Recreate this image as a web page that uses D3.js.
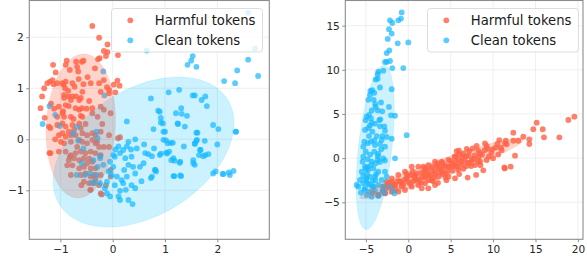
<!DOCTYPE html>
<html>
<head>
<meta charset="utf-8">
<script src="https://cdn.jsdelivr.net/npm/d3@7"></script>
<style>
  body { margin: 0; background: #fff; }
  svg { display: block; font-family: "DejaVu Sans", sans-serif; }
</style>
</head>
<body>
<script>
    // series labels and colours
    const seriesNames = ["Harmful tokens", "Clean tokens"];
    const seriesColors = ["#ff6347", "#1ab8ff"];

    // tick labels
    const leftXTicks = [-1, 0, 1, 2];
    const leftYTicks = [-1, 0, 1, 2];
    const rightXTicks = [-5, 0, 5, 10, 15, 20];
    const rightYTicks = [-5, 0, 5, 10, 15];

    // axis extents
    const leftXDomain = [-1.595, 2.994];
    const leftYDomain = [-1.96, 2.72];
    const rightXDomain = [-7.43, 20.6];
    const rightYDomain = [-9.19, 17.85];

    // left panel, harmful tokens
    const leftHarmful = [
        [-0.39,2.22],[-0.26,1.99],[-0.10,1.86],[-0.17,1.73],[-0.10,1.71],[-0.13,1.63],[0.10,1.65],[-0.28,1.57],
        [-0.25,1.59],[-1.14,1.46],[-0.88,1.54],[-0.90,1.46],[-0.70,1.52],[-0.59,1.52],[-0.56,1.54],[-0.68,1.42],
        [-0.82,1.36],[-0.66,1.33],[-0.34,1.39],[-1.09,1.31],[-1.20,1.13],[-1.15,1.16],[-1.25,1.10],[-1.31,1.00],
        [-1.35,0.84],[-1.38,0.61],[-1.13,1.08],[-1.06,1.10],[-0.96,1.10],[-0.90,1.13],[-0.94,1.07],[-0.77,1.10],
        [-0.91,1.00],[-0.73,1.03],[-0.56,1.08],[-0.58,0.93],[-0.42,1.10],[-0.26,1.10],[-0.17,1.16],[-0.11,1.02],
        [-0.07,0.97],[0.02,1.07],[0.09,1.15],[-0.23,0.93],[-0.07,0.90],[-0.93,0.87],[-0.93,0.81],[-0.84,0.84],
        [-0.77,0.84],[-0.80,0.77],[-0.64,0.77],[-0.61,0.81],[-0.70,0.84],[-0.90,0.67],[-0.84,0.65],[-1.03,0.64],
        [-0.71,0.61],[-0.64,0.58],[-0.59,0.61],[-0.39,0.61],[-0.23,0.64],[-0.17,0.58],[-0.96,0.51],[-1.06,0.44],
        [-0.93,0.44],[-0.80,0.44],[-0.61,0.46],[-0.58,0.44],[-0.39,0.51],[-0.29,0.44],[-0.04,0.51],
        [-1.22,0.25],[-1.19,0.22],[-1.06,0.28],[-0.96,0.31],[-0.90,0.25],[-0.77,0.28],[-0.64,0.31],[-0.61,0.22],
        [-0.74,0.18],[-0.84,0.15],[-0.96,0.12],[-1.03,0.08],[-0.90,0.05],[-0.80,0.08],[-0.71,0.08],[-0.58,0.12],
        [-0.49,0.08],[-0.39,0.12],[-0.33,0.08],[-0.23,0.15],[-0.07,0.08],[-0.99,-0.05],[-0.93,-0.08],[-0.80,-0.05],
        [-0.64,-0.01],[-0.58,-0.05],[-0.49,-0.08],[-0.39,-0.01],[-0.33,-0.08],[-0.26,-0.15],[-0.17,-0.15],[-0.07,-0.15],
        [-1.19,-0.27],[-1.03,-0.24],[-0.90,-0.24],[-0.80,-0.31],[-0.71,-0.27],[-0.61,-0.24],[-0.52,-0.27],[-0.42,-0.24],
        [-0.33,-0.27],[-0.23,-0.31],[-0.84,-0.41],[-0.74,-0.37],[-0.64,-0.41],[-0.55,-0.37],[-0.49,-0.47],[-0.39,-0.44],
        [-0.87,-0.51],[-0.77,-0.51],[-0.64,-0.57],[-0.55,-0.54],[-0.42,-0.57],[-0.33,-0.57],[-0.61,-0.70],[-0.52,-0.67],
        [-0.42,-0.73],[-0.33,-0.77],[-0.23,-0.70],[-0.55,-0.83],[-0.45,-0.86],[-0.36,-0.86],[-0.26,-0.90],[-0.42,-0.99],
        [-0.23,-1.06],[-0.13,-0.90],[-0.04,-0.60],[-0.04,-0.73],[0.14,0.04],[0.10,0.02],[-0.21,-1.08],[-0.43,-0.99],
        [-0.80,-0.70],[-1.21,-0.27],[-0.82,-0.34],[0.13,1.05],[0.05,0.92],[-1.30,0.42],[-1.18,0.70],[-0.48,1.22],
        [-0.85,0.95],[-0.65,1.18],[-0.45,0.75],[-0.52,0.30],[-1.10,0.00],[-0.68,-0.15],[-0.45,-0.38],[-0.30,-0.05],
        [-0.95,0.55],[-1.12,0.60],[-0.75,0.40],[-0.50,0.60],[-0.20,0.30],[-0.35,-0.70],[-0.60,-0.90]
    ];

    // left panel, clean tokens
    const leftClean = [
        [2.59,2.48],[2.72,1.78],[2.59,1.56],[2.78,1.24],[2.38,1.35],[2.34,1.10],[2.13,1.14],[0.65,1.74],
        [1.53,1.63],[1.50,1.54],[1.43,1.46],[1.60,1.42],[-0.18,1.33],[-0.16,0.86],[-1.21,0.65],[-1.10,0.48],
        [-1.34,0.30],[-1.01,0.26],[1.53,0.86],[1.57,0.86],[1.70,0.77],[1.77,0.84],[1.80,0.65],[1.27,0.97],
        [1.07,0.92],[0.73,0.80],[0.27,0.35],[1.31,0.61],[1.32,0.50],[1.21,0.51],[0.90,0.54],[0.96,0.31],
        [0.78,0.20],[1.00,0.15],[0.97,-0.01],[1.11,-0.07],[1.24,0.31],[1.38,0.25],[1.36,-0.14],[1.60,0.13],
        [1.61,-0.01],[1.57,-0.08],[1.67,-0.21],[1.77,-0.31],[1.83,-0.29],[1.92,0.28],[2.02,0.20],[2.00,-0.10],
        [2.36,0.15],[1.92,-0.67],[2.10,-0.68],[2.24,-0.70],[2.31,-0.62],[2.22,-0.65],[1.54,-0.41],[1.54,-0.47],
        [1.29,-0.44],[1.16,-0.37],[1.02,-0.26],[0.90,-0.31],[0.75,-0.33],[0.68,-0.29],[0.62,-0.27],[0.81,-0.60],
        [0.75,-0.73],[1.16,-0.72],[1.29,-0.71],[0.59,-0.47],[0.52,-0.54],[0.43,-0.67],[0.46,-0.18],[0.43,0.00],
        [0.27,-0.14],[0.20,-0.21],[0.11,-0.14],[0.14,-0.27],[0.04,-0.34],[0.24,-0.37],[0.36,-0.34],[0.30,-0.50],
        [0.39,-0.54],[0.01,-0.54],[-0.08,-0.63],[-0.02,-0.70],[0.08,-0.73],[0.17,-0.80],[0.27,-0.73],[0.36,-0.90],
        [0.43,-0.96],[0.25,-0.99],[0.14,-1.01],[0.11,-1.12],[0.14,-1.19],[0.30,-1.19],[0.38,-1.27],[-0.05,-1.12],
        [-0.11,-1.06],[-0.15,-0.96],[-0.24,-0.86],[-0.34,-0.83],[-0.40,-0.85],[-0.31,-0.70],[-0.43,-0.67],[-0.59,-0.47],
        [-0.53,-0.70],[-0.69,-0.70],[-0.29,-0.54],[-0.18,-0.50],[-0.24,-0.37],[-0.37,-0.41],[-0.56,-0.18],[0.01,-0.31],
        [-0.05,-0.44],[-0.11,-0.83],[0.04,-0.90],[0.20,-0.86],[-0.24,-0.33],[-0.66,-0.03],[-0.76,0.12],[-0.31,0.15],
        [-0.69,0.25],[-0.29,0.02],[0.92,0.33],[0.97,0.15],[1.25,0.30],[1.62,0.13],[2.35,0.15],[1.02,-0.02],
        [1.05,-0.08],[1.15,-0.07],[0.79,-0.18],[0.92,-0.28],[1.04,-0.28],[1.08,-0.24],[1.57,-0.09],[1.60,-0.03],
        [1.76,-0.03],[1.68,-0.21],[1.65,-0.31],[1.73,-0.33],[1.12,-0.41],[1.18,-0.42],[1.28,-0.46],[1.57,-0.50],
        [0.81,-0.60],[0.83,-0.63],[0.73,-0.76],[1.18,-0.72],[1.31,-0.72],[1.97,-0.63],[2.12,-0.68],[0.87,0.56],
        [0.92,0.42],[1.42,0.46],[0.30,-0.05],[0.22,-0.60],[0.05,-0.20],[0.55,-0.82],[0.60,-0.10],[0.35,-0.20]
    ];

    // right panel, harmful tokens
    const rightHarmful = [
        [19.58,4.70],[18.87,4.32],[17.81,2.36],[15.14,4.02],[14.74,3.27],[15.85,3.27],[16.00,2.36],[14.27,2.13],
        [14.27,1.60],[13.56,2.43],[12.97,1.97],[12.38,2.88],[12.38,1.97],[12.58,0.28],[12.07,-0.97],[11.37,-1.16],
        [11.33,-1.06],[11.49,1.97],[11.60,1.56],[11.40,1.68],[10.93,1.18],[10.73,2.05],[9.24,1.38],[9.04,1.68],
        [9.32,1.05],[8.84,-1.38],[8.06,1.38],[8.25,0.85],[8.45,0.55],[8.33,0.17],[9.24,-0.21],[7.48,-0.21],
        [7.28,-0.51],[6.89,1.05],[7.87,-0.78],[8.45,-0.40],[5.98,0.85],[6.37,0.17],[5.51,0.17],[4.72,-0.21],
        [3.94,-0.40],[3.15,-0.40],[2.36,-0.78],[1.77,-0.96],[1.18,-0.96],[0.40,-0.96],[-0.39,-1.53],[-1.18,-1.91],
        [-1.96,-2.29],[-2.55,-2.66],[-2.95,-3.23],[-2.36,-3.23],[-1.57,-3.04],[-0.79,-2.85],[0.00,-2.66],[0.79,-2.47],
        [1.58,-2.10],[2.36,-1.91],[3.15,-1.53],[3.94,-1.34],[4.72,-0.96],[5.51,-0.78],[6.29,-0.40],[4.33,-1.72],
        [3.54,-2.10],[2.75,-2.47],[1.97,-2.85],[1.18,-3.04],[0.40,-3.23],[-0.39,-3.61],[-1.18,-3.80],[-1.96,-3.80],
        [-2.75,-3.99],[-3.54,-4.17],[-4.20,-3.90],[-3.50,-4.20],[-3.00,-3.60],[0.40,-1.91],[0.99,-1.72],[1.97,-1.53],
        [2.75,-1.34],[3.54,-1.15],[4.33,-0.78],[5.12,-0.59],[5.90,-0.21],[6.49,0.55],[5.51,-2.29],[4.72,-2.10],
        [3.15,-3.04],[2.36,-3.42],[1.58,-3.42],[-0.20,-2.29],[-0.98,-2.66],[-1.77,-3.04],[6.50,-1.20],[7.00,-0.50],
        [7.20,0.80],[6.00,-1.80],[5.50,0.20],[7.80,0.30],[8.50,-0.80],[9.80,0.60],[10.30,1.20],[10.00,0.00],
        [8.00,-1.90],[7.00,-2.20],[9.00,0.90],[4.50,-2.50],[5.20,-1.40],[6.80,0.20],[4.00,-0.50],[3.50,-2.80],
        [2.80,-1.00],[2.00,-2.00],[1.50,-2.80],[0.50,-1.50],[0.00,-2.00],[-0.80,-3.20],[-1.50,-3.50],[-2.20,-2.80],
        [1.00,-2.40],[3.00,-2.20],[4.00,-1.80],[5.00,-0.30],[6.00,0.40],[6.80,-0.90],[10.60,0.40],[11.00,0.90],
        [7.60,1.10],[5.80,-1.00],[3.30,-0.90],[2.40,-2.50],[0.70,-2.10],[-0.40,-2.40],[-1.30,-2.60],[-2.60,-3.40],
        [-2.80,-3.90],[-2.00,-3.30],[-1.60,-3.00],[-1.00,-2.60],[-0.60,-3.00],[0.20,-2.90],[0.80,-2.00],[1.30,-2.50],
        [1.90,-2.20],[2.20,-1.40],[2.60,-1.90],[3.20,-1.80],[3.70,-0.90],[3.80,-1.60],[4.20,-1.00],[4.60,-1.50],
        [4.90,-1.00],[5.30,-0.90],[5.60,-0.40],[5.90,-1.30],[6.20,-0.70],[6.60,-0.20],[7.10,0.30],[7.40,-0.90],
        [7.70,-0.10],[8.20,-0.30],[8.70,0.40],[9.50,0.20],[9.90,1.00],[10.50,1.60],[-1.90,-2.70],[-2.40,-3.00],
        [0.60,-2.60],[1.60,-1.60],[2.90,-2.60],[4.40,-2.20],[5.70,0.80],[3.40,-0.60],[2.00,-1.20],[-0.20,-1.80]
    ];

    // right panel, clean tokens
    const rightClean = [
        [-0.78,16.5],[-0.86,15.8],[-1.18,15.6],[-2.16,15.6],[-1.89,15.3],[-2.28,14.6],[-1.96,14.1],[-2.43,13.5],
        [-1.25,13.0],[0.00,13.1],[-2.55,11.9],[-2.24,12.2],[-2.55,10.9],[-2.16,11.0],[-1.89,10.2],[-2.75,10.9],
        [-0.59,10.2],[-3.54,9.8],[-3.61,9.5],[-2.95,9.9],[-3.61,9.0],[-3.85,8.9],[-1.96,7.8],[-4.24,7.7],
        [-4.48,7.6],[-4.01,7.4],[-3.34,8.0],[-4.52,7.15],[-4.08,6.6],[-4.72,6.6],[-3.22,6.3],[-3.85,5.8],
        [-4.32,5.4],[-3.61,5.4],[-3.07,5.3],[-2.28,5.8],[-2.04,4.85],[-1.57,4.8],[-3.42,4.3],[-4.63,4.9],
        [-4.91,4.7],[-5.02,4.3],[-4.40,4.5],[-3.93,3.9],[-3.34,3.6],[-2.83,3.6],[-2.75,3.1],[-3.07,2.5],
        [-4.52,3.7],[-5.11,3.2],[-4.24,3.0],[-4.63,2.5],[-3.73,2.5],[-3.14,2.06],[-2.55,2.4],[-1.96,2.2],
        [-5.19,1.87],[-4.79,1.7],[-4.40,1.87],[-3.93,1.49],[-3.34,1.6],[-2.75,1.30],[-5.31,1.30],[-5.02,0.73],
        [-4.01,0.73],[-3.54,0.47],[-2.95,-0.02],[-1.57,-0.02],[-0.19,2.6],[-5.31,0.16],[-4.79,-0.13],[-4.32,-0.39],
        [-3.85,-0.58],[-3.34,-0.43],[-2.75,-0.28],[-5.11,-0.97],[-4.72,-1.34],[-4.12,-1.16],[-3.54,-1.53],[-2.75,-1.53],
        [-5.50,-1.53],[-5.31,-2.02],[-4.91,-2.28],[-4.52,-2.09],[-3.93,-2.09],[-3.14,-2.47],[-2.55,-2.09],[-5.70,-2.47],
        [-5.31,-2.85],[-4.79,-2.85],[-4.24,-3.23],[-3.54,-3.04],[-2.95,-3.23],[-5.90,-3.23],[-5.11,-3.42],[-4.63,-3.80],
        [-3.93,-3.68],[-3.07,-3.80],[-4.91,-4.17],[-4.32,-4.36],[-3.54,-4.29],[-2.75,-3.91],[-1.77,-3.68],[-6.10,-3.04],
        [-1.65,-3.99],[-2.16,-3.23],[-4.80,-1.00],[-5.00,-2.50],[-4.60,-3.00],[-4.20,-2.60],[-3.80,-1.80],[-4.40,-0.80],
        [-3.60,0.20],[-4.10,-3.20],[-5.20,-3.60],[-4.90,-1.80],[-3.30,4.40],[-3.90,6.10],[-4.30,4.00],[-4.70,3.40],
        [-4.00,2.00],[-3.20,1.00],[-3.60,-0.20],[-5.40,-0.40],[-5.00,-1.20],[-4.50,0.40],[-3.90,-2.50],[-5.60,-3.90]
    ];

    // confidence ellipses: centre, semi-axis vectors (data units)
    const leftEllipses = [
        {center: [-0.61, 0.26], u: [0.072, 1.41], v: [0.659, -0.035]},
        {center: [0.59, -0.25], u: [1.606, 1.03], v: [0.639, -1.047]}
    ];
    const rightEllipses = [
        {center: [3.94, -1.17], u: [9.63, 3.31], v: [0.357, -0.96]},
        {center: [-3.90, 1.24], u: [1.085, 9.31], v: [1.957, -0.21]}
    ];

    const width = 587, height = 258;
    const svg = d3.select("body").append("svg")
        .attr("width", width)
        .attr("height", height);

    function panel(id, box, xDom, yDom, xTicks, yTicks, series, ellipses, legendX) {
        const x = d3.scaleLinear().domain(xDom).range([box.x0, box.x1]);
        const y = d3.scaleLinear().domain(yDom).range([box.y1, box.y0]);
        const g = svg.append("g");

        g.append("clipPath").attr("id", id)
            .append("rect")
            .attr("x", box.x0).attr("y", box.y0)
            .attr("width", box.x1 - box.x0).attr("height", box.y1 - box.y0);

        // grid
        const grid = g.append("g").attr("stroke", "#ebebeb").attr("stroke-width", 0.8);
        grid.selectAll(".gx").data(xTicks).join("line")
            .attr("x1", d => x(d)).attr("x2", d => x(d))
            .attr("y1", box.y0).attr("y2", box.y1);
        grid.selectAll(".gy").data(yTicks).join("line")
            .attr("y1", d => y(d)).attr("y2", d => y(d))
            .attr("x1", box.x0).attr("x2", box.x1);

        const plot = g.append("g").attr("clip-path", `url(#${id})`);

        // points
        series.forEach((pts, i) => {
            plot.append("g")
                .attr("fill", seriesColors[i])
                .attr("fill-opacity", i == 0 ? 0.82 : 0.72)
                .selectAll("circle")
                .data(pts)
                .join("circle")
                .attr("cx", d => x(d[0]))
                .attr("cy", d => y(d[1]))
                .attr("r", 2.9);
        });

        // ellipses on top of points
        const line = d3.line().x(d => x(d[0])).y(d => y(d[1]));
        const steps = d3.range(0, 121).map(k => k / 120 * 2 * Math.PI);
        ellipses.forEach((e, i) => {
            const ring = steps.map(t => [
                e.center[0] + Math.cos(t) * e.u[0] + Math.sin(t) * e.v[0],
                e.center[1] + Math.cos(t) * e.u[1] + Math.sin(t) * e.v[1]
            ]);
            plot.append("path")
                .attr("d", line(ring) + "Z")
                .attr("fill", i == 0 ? "#ff6347" : "#00bfff")
                .attr("fill-opacity", i == 0 ? 0.28 : 0.2)
                .attr("stroke", i == 0 ? "#ff6347" : "#00bfff")
                .attr("stroke-opacity", 0.12);
        });

        // axes
        const xAxis = g.append("g")
            .attr("transform", `translate(0,${box.y1})`)
            .call(d3.axisBottom(x).tickValues(xTicks).tickSize(3).tickPadding(3)
                .tickFormat(d => d < 0 ? "\u2212" + Math.abs(d) : d));
        const yAxis = g.append("g")
            .attr("transform", `translate(${box.x0},0)`)
            .call(d3.axisLeft(y).tickValues(yTicks).tickSize(3).tickPadding(2.5)
                .tickFormat(d => d < 0 ? "\u2212" + Math.abs(d) : d));
        [xAxis, yAxis].forEach(a => {
            a.select(".domain").remove();
            a.selectAll(".tick line").attr("stroke", "#8c8c8c");
            a.selectAll(".tick text")
                .attr("fill", "#262626")
                .style("font-size", "10.5px")
                .style("font-family", "DejaVu Sans");
        });

        // frame
        g.append("rect")
            .attr("x", box.x0).attr("y", box.y0)
            .attr("width", box.x1 - box.x0).attr("height", box.y1 - box.y0)
            .attr("fill", "none")
            .attr("stroke", "#8c8c8c")
            .attr("stroke-width", 1.1);

        // legend
        const lg = g.append("g").attr("transform", `translate(${legendX},8.5)`);
        lg.append("rect")
            .attr("width", 151).attr("height", 43.5)
            .attr("rx", 3)
            .attr("fill", "#fff").attr("fill-opacity", 0.8)
            .attr("stroke", "#d9d9d9").attr("stroke-width", 0.9);
        seriesNames.forEach((name, i) => {
            lg.append("circle")
                .attr("cx", 18.8).attr("cy", 11.8 + i * 20)
                .attr("r", 2.9)
                .attr("fill", seriesColors[i])
                .attr("fill-opacity", i == 0 ? 0.82 : 0.72);
            lg.append("text")
                .attr("x", 43.3).attr("y", 11.8 + i * 20)
                .attr("dy", "0.36em")
                .attr("fill", "#1a1a1a")
                .style("font-size", "13.2px")
                .text(name);
        });
    }

    panel("clipL", {x0: 29.3, x1: 269.3, y0: 0.5, y1: 239.3},
        leftXDomain, leftYDomain, leftXTicks, leftYTicks,
        [leftHarmful, leftClean], leftEllipses, 111.5);
    panel("clipR", {x0: 345.3, x1: 583, y0: 0.5, y1: 239.3},
        rightXDomain, rightYDomain, rightXTicks, rightYTicks,
        [rightHarmful, rightClean], rightEllipses, 427.5);
</script>
</body>
</html>
